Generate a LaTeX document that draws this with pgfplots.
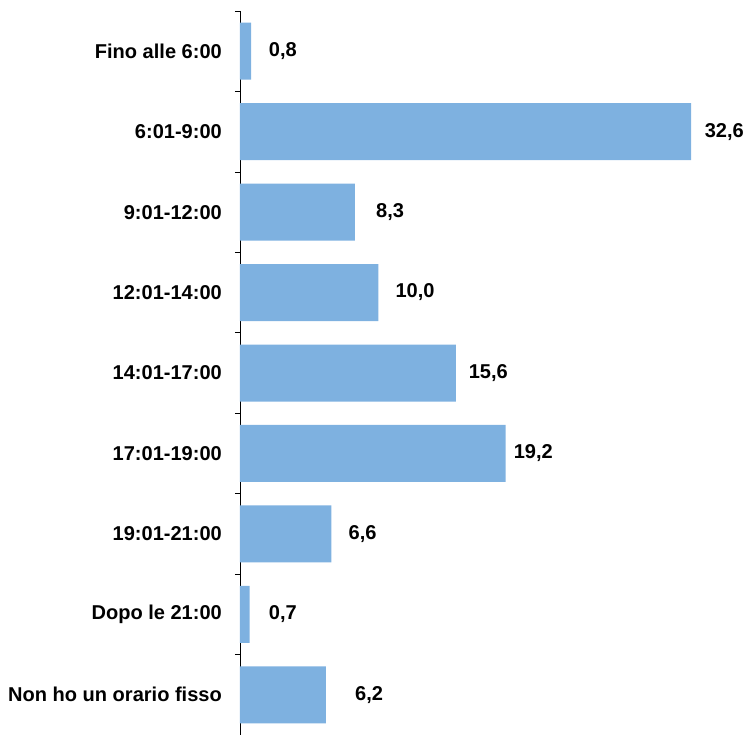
\documentclass[border=0pt]{standalone}
\usepackage{pgfplots}
\pgfplotsset{compat=1.18}
\usepackage{pgfplotstable}
\usepackage{fontspec}
\setmainfont{Liberation Sans}
\definecolor{barblue}{HTML}{7EB1E0}

\pgfplotstableread{
y val lx lab
1 0.8 3.1 0,8
2 32.6 35.0 32,6
3 8.3 10.85 8,3
4 10.0 12.65 10,0
5 15.6 17.95 15,6
6 19.2 21.2 19,2
7 6.6 8.86 6,6
8 0.7 3.1 0,7
9 6.2 9.33 6,2
}\data

\begin{document}
\begin{tikzpicture}
\begin{axis}[
  scale only axis,
  width=505bp, height=724bp,
  xmin=0, xmax=36.5,
  ymin=0.5, ymax=9.5,
  y dir=reverse,
  hide x axis,
  axis y line*=left,
  axis line style={black, line width=0.8bp},
  ytick={1,...,9},
  yticklabels={Fino alle 6:00,6:01-9:00,9:01-12:00,12:01-14:00,14:01-17:00,17:01-19:00,19:01-21:00,Dopo le 21:00,Non ho un orario fisso},
  minor ytick={0.5,1.5,...,9.5},
  tick align=outside,
  major tick length=0pt,
  minor tick length=5bp,
  every minor tick/.style={black, line width=0.6bp},
  yticklabel style={font=\fontsize{20.1}{23}\selectfont\bfseries, inner sep=0pt, xshift=-18bp},
  bar width=57bp,
  clip=false,
]
\coordinate (tl) at (axis cs:0,0.5);
\coordinate (br) at (axis cs:36.5,9.5);
\addplot[xbar, fill=barblue, draw=none] table[x=val, y=y] {\data};
\addplot[draw=none, mark=none, nodes near coords, point meta=explicit symbolic,
  nodes near coords style={anchor=center, font=\fontsize{20.1}{23}\selectfont\bfseries}]
  table[x=lx, y=y, meta=lab] {\data};
\end{axis}
\pgfresetboundingbox
\path ([xshift=-240bp, yshift=11bp]tl) rectangle ([xshift=1bp]br);
\end{tikzpicture}
\end{document}
